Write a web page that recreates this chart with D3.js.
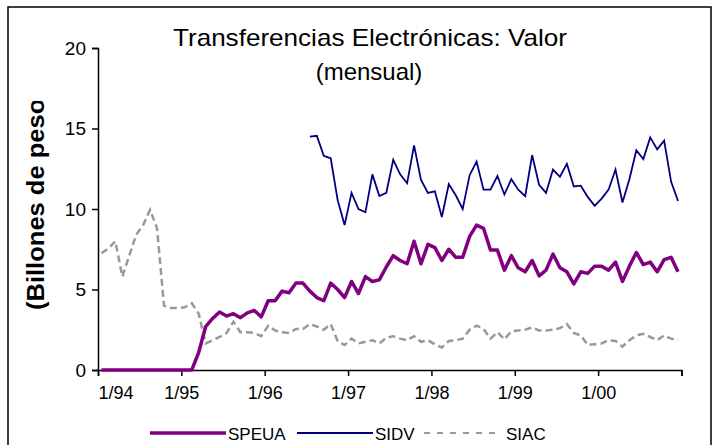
<!DOCTYPE html>
<html>
<head>
<meta charset="utf-8">
<script src="https://cdn.jsdelivr.net/npm/d3@7"></script>
<style>
  body { margin: 0; background: #fff; }
  text { font-family: "Liberation Sans", Arial, sans-serif; }
</style>
</head>
<body>
<div id="chart"></div>
<script>
// monthly values, 1/94 .. 12/00 (84 months)
var speua = [0,0,0,0,0,0,0,0,0,0,0,0,0,0,1.1,2.7,3.2,3.6,3.35,3.5,3.25,3.55,3.7,3.3,
  4.3,4.3,4.9,4.8,5.4,5.4,4.9,4.5,4.3,5.4,5.0,4.5,
  5.5,4.75,5.8,5.5,5.6,6.4,7.1,6.8,6.6,8.0,6.6,7.8,
  7.6,6.8,7.5,7.0,7.0,8.3,9.0,8.8,7.45,7.45,6.2,7.1,
  6.35,6.1,6.8,5.85,6.2,7.2,6.35,6.1,5.35,6.1,6.0,6.45,
  6.45,6.2,6.7,5.5,6.45,7.3,6.55,6.7,6.1,6.85,7.0,6.1];

// SIDV starts 7/96 (index 30)
var sidvStart = 30;
var sidv = [14.5,14.55,13.3,13.15,10.55,9.0,
  11.0,10.0,9.8,12.15,10.8,11.0,13.05,12.15,11.6,13.95,11.8,11.0,
  11.1,9.5,11.55,10.85,10.0,12.1,12.95,11.2,11.2,12.05,10.9,11.85,
  11.2,10.8,13.35,11.5,11.0,12.45,12.0,12.8,11.4,11.45,10.75,10.2,
  10.65,11.2,12.45,10.4,11.85,13.65,13.1,14.45,13.7,14.25,11.7,10.5];

var siac = [7.25,7.55,8.0,5.8,7.1,8.4,9.0,9.95,8.8,4.0,3.85,3.85,
  3.9,4.15,3.5,1.65,1.85,2.05,2.3,3.0,2.35,2.35,2.3,2.1,
  2.75,2.45,2.35,2.3,2.55,2.55,2.85,2.7,2.5,2.85,1.8,1.55,
  1.95,1.65,1.75,1.85,1.65,2.0,2.1,1.95,1.85,2.1,1.75,1.85,
  1.6,1.4,1.8,1.85,1.95,2.5,2.75,2.55,1.95,2.35,1.9,2.4,
  2.45,2.5,2.65,2.45,2.45,2.5,2.6,2.85,2.3,2.15,1.55,1.6,
  1.65,1.85,1.8,1.45,1.85,2.15,2.25,2.05,1.85,2.15,1.95,1.85];

var yearLabels = ["1/94","1/95","1/96","1/97","1/98","1/99","1/00"];
var yTicks = [0,5,10,15,20];

var W = 713, H = 445;
var svg = d3.select("#chart").append("svg")
  .attr("width", W).attr("height", H);

// outer frame
svg.append("rect")
  .attr("x", 8).attr("y", 7).attr("width", 703).attr("height", 446)
  .attr("fill", "none").attr("stroke", "#000").attr("stroke-width", 1.5);

var x = d3.scaleLinear().domain([0, 84]).range([98, 681.5]);
var y = d3.scaleLinear().domain([0, 20]).range([370, 48]);

// y axis
var yAxis = svg.append("g")
  .attr("transform", "translate(98,0)")
  .call(d3.axisLeft(y).tickValues(yTicks).tickSize(6).tickPadding(6));
yAxis.selectAll("text").style("font-size", "19px").attr("fill", "#000");

// x axis, ticks every 12 months
var xAxis = svg.append("g")
  .attr("transform", "translate(0,370)")
  .call(d3.axisBottom(x).tickValues(d3.range(0, 85, 12)).tickSize(6)
    .tickFormat(function (d, i) { return yearLabels[i] || ""; }).tickPadding(10));
xAxis.selectAll("text").style("font-size", "18px").attr("fill", "#000");
xAxis.selectAll(".tick").filter(function (d) { return d == 0; }).select("text")
  .attr("text-anchor", "start");

svg.selectAll(".domain").attr("stroke", "#000").attr("stroke-width", 1.5);
svg.selectAll(".tick line").attr("stroke", "#000").attr("stroke-width", 1.5);

// lines
var line = d3.line()
  .x(function (d) { return x(d.i + 0.5); })
  .y(function (d) { return y(d.v); });

function pts(arr, start) {
  return arr.map(function (v, k) { return { i: k + start, v: v }; });
}

svg.append("path").datum(pts(siac, 0))
  .attr("d", line).attr("fill", "none")
  .attr("stroke", "#999999").attr("stroke-width", 2.5).attr("stroke-dasharray", "7,4");

svg.append("path").datum(pts(sidv, sidvStart))
  .attr("d", line).attr("fill", "none")
  .attr("stroke", "#000080").attr("stroke-width", 1.8);

svg.append("path").datum(pts(speua, 0))
  .attr("d", line).attr("fill", "none")
  .attr("stroke", "#800080").attr("stroke-width", 3.5).attr("stroke-linejoin", "round");

// title
svg.append("text").attr("x", 370).attr("y", 46).attr("text-anchor", "middle")
  .style("font-size", "24px").attr("textLength", 394).attr("lengthAdjust", "spacingAndGlyphs")
  .text("Transferencias Electrónicas: Valor");
svg.append("text").attr("x", 369).attr("y", 80).attr("text-anchor", "middle")
  .style("font-size", "24px").text("(mensual)");

// y axis title, clipped at the top like the original
svg.append("clipPath").attr("id", "yclip")
  .append("rect").attr("x", 0).attr("y", 101).attr("width", 90).attr("height", 300);
svg.append("g").attr("clip-path", "url(#yclip)")
  .append("text")
  .attr("transform", "translate(44,310) rotate(-90)")
  .attr("text-anchor", "start")
  .attr("textLength", 234).attr("lengthAdjust", "spacingAndGlyphs")
  .style("font-size", "23px").style("font-weight", "bold")
  .text("(Billones de pesos)");

// legend
var legend = [
  { name: "SPEUA", color: "#800080", w: 3.5, dash: null, x: 150 },
  { name: "SIDV", color: "#000080", w: 1.8, dash: null, x: 297 },
  { name: "SIAC", color: "#999999", w: 2, dash: "6,7", x: 424 }
];
legend.forEach(function (l) {
  svg.append("line").attr("x1", l.x).attr("x2", l.x + 76).attr("y1", 433).attr("y2", 433)
    .attr("stroke", l.color).attr("stroke-width", l.w).attr("stroke-dasharray", l.dash);
  svg.append("text").attr("x", l.x + 78 + (l.name == "SIAC" ? 4 : 0)).attr("y", 440)
    .style("font-size", "17px").text(l.name);
});
</script>
</body>
</html>
